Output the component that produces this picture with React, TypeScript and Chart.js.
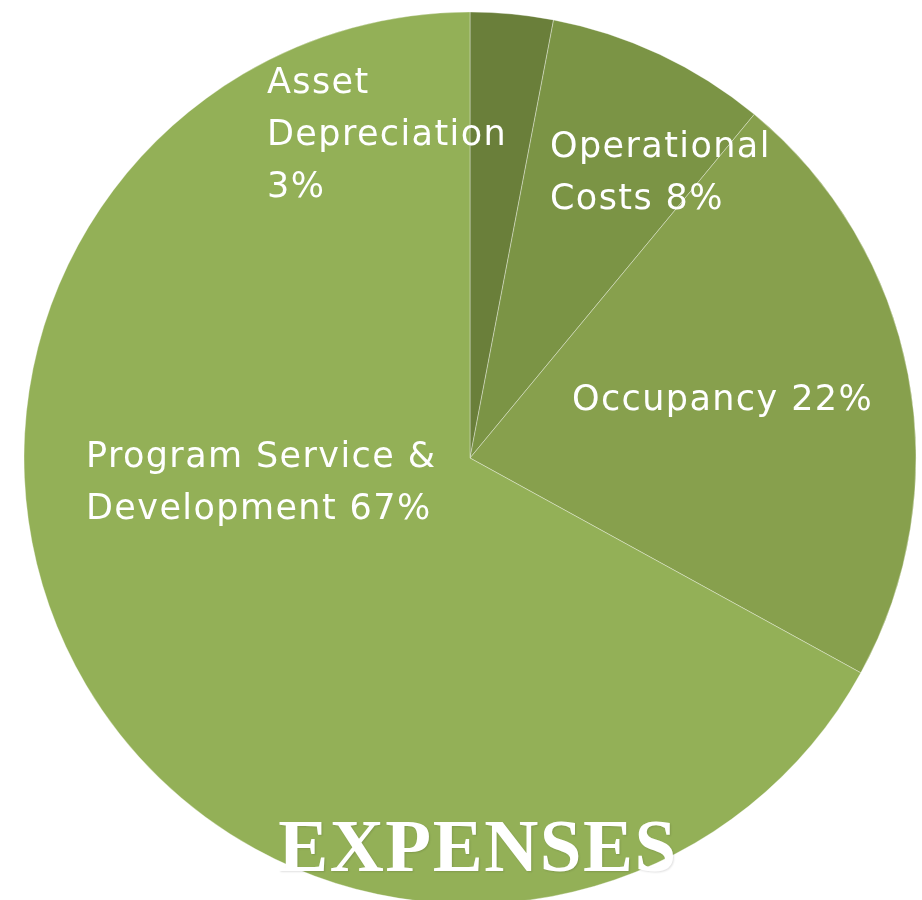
import React, { useEffect, useRef } from "react";
import { Chart, registerables } from "chart.js";

Chart.register(...registerables);

// ---- data ----
const categories = [
  "Asset Depreciation",
  "Operational Costs",
  "Occupancy",
  "Program Service & Development",
];
const percentages = [3, 8, 22, 67];
const labelLines = [
  ["Asset", "Depreciation", "3%"],
  ["Operational", "Costs 8%"],
  ["Occupancy 22%"],
  ["Program Service &", "Development 67%"],
];
const chartTitle = "EXPENSES";

// ---- styles / layout ----
const sliceColors = ["#6a7f3a", "#7b9445", "#87a04d", "#93b057"];
// label anchor offsets from pie center (left-aligned, first baseline)
const labelOffsets = [
  [-203, -365],
  [80, -301],
  [102, -48],
  [-384, 9],
];
const LINE_HEIGHT = 52;

const labelPlugin = {
  id: "customLabels",
  afterDatasetsDraw(chart: any) {
    const meta = chart.getDatasetMeta(0);
    if (!meta || !meta.data.length) return;
    const cx = meta.data[0].x;
    const cy = meta.data[0].y;
    const ctx = chart.ctx as CanvasRenderingContext2D;
    ctx.save();
    ctx.fillStyle = "#ffffff";
    ctx.textAlign = "left";
    ctx.textBaseline = "alphabetic";
    ctx.font = '35px "DejaVu Sans", Verdana, sans-serif';
    try {
      (ctx as any).letterSpacing = "1.4px";
    } catch (e) {}
    labelLines.forEach((lines, i) => {
      const [dx, dy] = labelOffsets[i];
      lines.forEach((line, j) => {
        ctx.fillText(line, cx + dx, cy + dy + j * LINE_HEIGHT);
      });
    });
    // title
    ctx.font = 'bold 75px "Liberation Serif", "Times New Roman", serif';
    ctx.textAlign = "center";
    try {
      (ctx as any).letterSpacing = "1.5px";
    } catch (e) {}
    ctx.shadowColor = "rgba(0,0,0,0.12)";
    ctx.shadowBlur = 2;
    ctx.shadowOffsetX = 1;
    ctx.shadowOffsetY = 1;
    ctx.fillText(chartTitle, cx + 8, cy + 413);
    ctx.restore();
  },
};

export default function App() {
  const canvasRef = useRef<HTMLCanvasElement | null>(null);

  useEffect(() => {
    if (!canvasRef.current) return;
    const chart = new Chart(canvasRef.current, {
      type: "pie",
      data: {
        labels: categories,
        datasets: [
          {
            data: percentages,
            backgroundColor: sliceColors,
            borderColor: "rgba(255,255,255,0.35)",
            borderWidth: 1,
            hoverOffset: 0,
            radius: 446,
          } as any,
        ],
      },
      options: {
        responsive: false,
        animation: false,
        devicePixelRatio: 1,
        layout: { padding: { top: 12, left: 24, right: 6, bottom: 0 } },
        plugins: {
          legend: { display: false },
          tooltip: { enabled: false },
          title: { display: false },
        },
      },
      plugins: [labelPlugin],
    });
    return () => chart.destroy();
  }, []);

  return (
    <div
      style={{
        position: "absolute",
        left: 0,
        top: 0,
        width: 922,
        height: 900,
        overflow: "hidden",
        background: "#ffffff",
      }}
    >
      <canvas ref={canvasRef} width={922} height={904} style={{ display: "block" }} />
    </div>
  );
}
